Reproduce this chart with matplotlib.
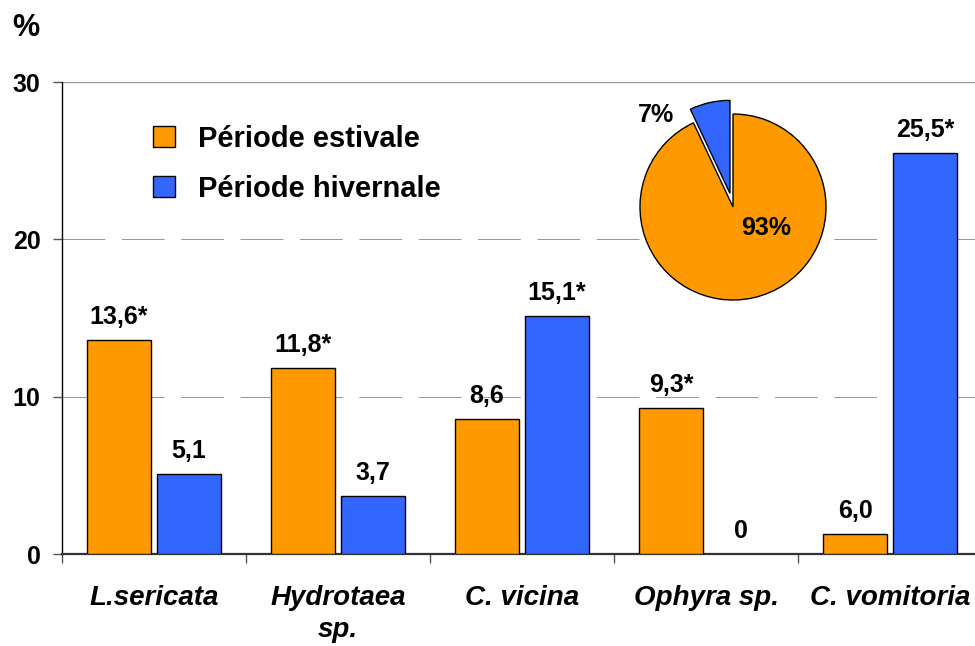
import numpy as np
import matplotlib
matplotlib.use('Agg')
import matplotlib.pyplot as plt
from matplotlib.patches import Patch

plt.rcParams['font.family'] = ['Liberation Sans', 'DejaVu Sans']
plt.rcParams['font.weight'] = 'bold'

especes = ['L.sericata', 'Hydrotaea\nsp.', 'C. vicina', 'Ophyra sp.', 'C. vomitoria']
estivale = [13.6, 11.8, 8.6, 9.3, 1.3]
hivernale = [5.1, 3.7, 15.1, 0.0, 25.5]
lab_estivale = ['13,6*', '11,8*', '8,6', '9,3*', '6,0']
lab_hivernale = ['5,1', '3,7', '15,1*', '0', '25,5*']
series = ['Période estivale', 'Période hivernale']
pie_vals = [93, 7]
pie_labels = ['93%', '7%']

orange = '#FF9900'
bleu = '#3366FF'

W, H = 975, 646
fig = plt.figure(figsize=(W / 100, H / 100), dpi=100)

# axe principal (depasse un peu a droite, comme l'original)
ax = fig.add_axes([62 / W, (H - 554) / H, (982 - 62) / W, (554 - 82) / H])
x = np.arange(len(especes))
bw = 0.345
ax.bar(x - 0.19, estivale, bw, color=orange, edgecolor='black',
       linewidth=[1 if v > 0 else 0 for v in estivale], zorder=3)
ax.bar(x + 0.19, hivernale, bw, color=bleu, edgecolor='black',
       linewidth=[1 if v > 0 else 0 for v in hivernale], zorder=3)

for xi, v, t in zip(x, estivale, lab_estivale):
    ax.annotate(t, (xi - 0.19, v), xytext=(0, 11.5), textcoords='offset points',
                ha='center', va='baseline', fontsize=18, fontweight='bold')
for xi, v, t in zip(x, hivernale, lab_hivernale):
    ax.annotate(t, (xi + 0.19, v), xytext=(0, 11.5), textcoords='offset points',
                ha='center', va='baseline', fontsize=18, fontweight='bold')

ax.set_xlim(-0.5, len(especes) - 0.5)
ax.set_ylim(0, 30)
ax.set_yticks([0, 10, 20, 30])
ax.tick_params(axis='y', length=6.5, width=1, pad=9, labelsize=18, color='#555555')

# lignes de grille
for yv in [10, 20]:
    ax.axhline(yv, color='#999999', linewidth=0.75, linestyle=(0, (41, 16)), zorder=1)
ax.axhline(30, color='#999999', linewidth=1, zorder=1)

ax.set_xticks(np.arange(len(especes) + 1) - 0.5)
ax.set_xticklabels([])
ax.set_xticks(x, minor=True)
ax.set_xticklabels(especes, minor=True, fontsize=20, fontweight='bold', style='italic',
                   linespacing=1.3)
ax.tick_params(axis='x', which='major', length=6.5, width=1, color='#555555')
ax.tick_params(axis='x', which='minor', length=0, pad=22)

for s in ['top', 'right']:
    ax.spines[s].set_visible(False)
ax.spines['left'].set_linewidth(1)
ax.spines['bottom'].set_linewidth(1.6)
ax.spines['bottom'].set_color('#333333')

handles = [Patch(facecolor=orange, edgecolor='black'), Patch(facecolor=bleu, edgecolor='black')]
ax.legend(handles, series, loc='upper left', bbox_to_anchor=(153 / W, 1 - 125 / H),
          bbox_transform=fig.transFigure, frameon=False, borderpad=0, borderaxespad=0,
          handlelength=0.74, handleheight=0.74, handletextpad=0.8,
          labelspacing=0.75, prop={'weight': 'bold', 'size': 21})

fig.text(12 / W, 1 - 28 / H, '%', fontsize=22, fontweight='bold', ha='left', va='center')

# camembert en encart
r = 93
half = 1.3 * r
pax = fig.add_axes([(733 - half) / W, (H - 207 - half) / H, 2 * half / W, 2 * half / H])
pax.pie(pie_vals, colors=[orange, bleu], startangle=90, counterclock=False,
        explode=[0, 0.15], wedgeprops={'edgecolor': 'black', 'linewidth': 1})
pax.set_xlim(-1.3, 1.3)
pax.set_ylim(-1.3, 1.3)
pax.set_aspect('equal')
pax.axis('off')
pax.text(0.355, -0.226, pie_labels[0], ha='center', va='center', fontsize=18, fontweight='bold')
pax.text(-0.83, 0.99, pie_labels[1], ha='center', va='center', fontsize=18, fontweight='bold')

fig.savefig('out.png', dpi=100)
